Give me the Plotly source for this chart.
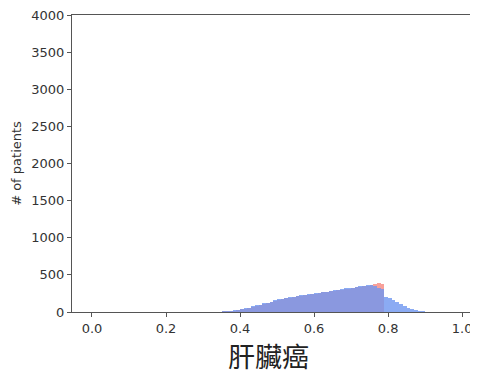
import plotly.graph_objects as go

bin_left = [round(0.33 + 0.01 * i, 2) for i in range(60)]
blue_counts = [3, 5, 8, 12, 16, 22, 28, 36, 48, 60,
               75, 88, 100, 115, 128, 140, 155, 170, 180, 188,
               198, 205, 215, 225, 230, 240, 245, 252, 262, 270,
               275, 285, 292, 298, 305, 318, 322, 330, 338, 345,
               350, 362, 370, 350, 330, 310, 200, 185, 165, 140,
               110, 80, 55, 38, 25, 15, 10, 6, 4, 2]
red_counts = [2, 4, 7, 11, 15, 20, 26, 34, 45, 57,
              72, 85, 97, 112, 124, 136, 150, 165, 175, 183,
              192, 200, 210, 220, 225, 234, 240, 246, 256, 264,
              270, 279, 286, 292, 299, 311, 316, 324, 332, 339,
              345, 356, 365, 378, 388, 382, 0, 0, 0, 0,
              0, 0, 0, 0, 0, 0, 0, 0, 0, 0]
x_ticks = [0.0, 0.2, 0.4, 0.6, 0.8, 1.0]
y_ticks = [0, 500, 1000, 1500, 2000, 2500, 3000, 3500, 4000]
x_title = "肝臟癌"
y_title = "# of patients"

centers = [b + 0.005 for b in bin_left]

fig = go.Figure()
fig.add_trace(go.Bar(x=centers, y=red_counts, width=0.01,
                     marker=dict(color="rgba(245,120,110,0.7)", line=dict(width=0))))
fig.add_trace(go.Bar(x=centers, y=blue_counts, width=0.01,
                     marker=dict(color="rgba(110,150,240,0.8)", line=dict(width=0))))

fig.add_annotation(text=x_title, xref="paper", yref="paper", x=0.485, y=-0.145,
                   xanchor="center", yanchor="middle", showarrow=False,
                   font=dict(family="Noto Sans CJK TC", size=27, color="#222"))

fig.update_layout(
    width=478, height=376,
    margin=dict(l=64, r=8, t=7, b=72),
    barmode="overlay", bargap=0,
    showlegend=False,
    plot_bgcolor="white", paper_bgcolor="white",
    font=dict(family="DejaVu Sans", size=13, color="#333"),
    xaxis=dict(range=[-0.054, 1.043], tickvals=x_ticks, tickformat=".1f",
               automargin=False, ticklabeloverflow="allow",
               showgrid=False, zeroline=False, showline=True, mirror=True,
               linecolor="#555", linewidth=1, ticks="outside", ticklen=4,
               tickcolor="#555"),
    yaxis=dict(range=[0, 4000], tickvals=y_ticks, automargin=False,
               ticklabeloverflow="allow",
               showgrid=False, zeroline=False, showline=True,
               linecolor="#555", linewidth=1, ticks="outside", ticklen=4,
               tickcolor="#555",
               title=dict(text=y_title, standoff=6,
                          font=dict(family="DejaVu Sans", size=13, color="#333"))),
)
fig.write_html("out.html")
